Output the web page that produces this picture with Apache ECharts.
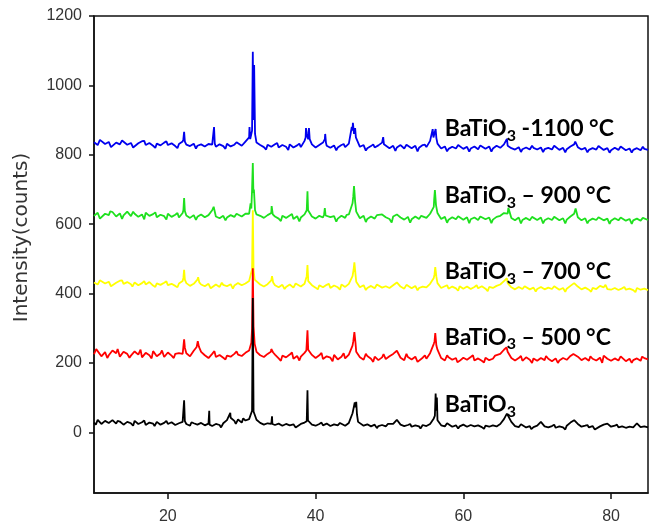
<!DOCTYPE html>
<html>
<head>
<meta charset="utf-8">
<script src="https://cdn.jsdelivr.net/npm/echarts@6/dist/echarts.min.js"></script>
<style>
  html, body { margin: 0; padding: 0; background: #fff; }
  #main { width: 651px; height: 529px; }
</style>
</head>
<body>
<div id="main"></div>
<script>
// 2θ sampling grid (degrees)
var twoTheta = [
  10, 10.5, 11, 11.5, 12, 12.5, 13, 13.5, 14, 14.5,
  15, 15.5, 16, 16.5, 17, 17.5, 18, 18.5, 19, 19.5,
  20, 20.5, 21, 21.5, 22, 22.5, 23, 23.5, 24, 24.5,
  25, 25.5, 26, 26.5, 27, 27.5, 28, 28.5, 29, 29.5,
  30, 30.5, 31, 31.5, 32, 32.5, 33, 33.5, 34, 34.5,
  35, 35.5, 36, 36.5, 37, 37.5, 38, 38.5, 39, 39.5,
  40, 40.5, 41, 41.5, 42, 42.5, 43, 43.5, 44, 44.5,
  45, 45.5, 46, 46.5, 47, 47.5, 48, 48.5, 49, 49.5,
  50, 50.5, 51, 51.5, 52, 52.5, 53, 53.5, 54, 54.5,
  55, 55.5, 56, 56.5, 57, 57.5, 58, 58.5, 59, 59.5,
  60, 60.5, 61, 61.5, 62, 62.5, 63, 63.5, 64, 64.5,
  65, 65.5, 66, 66.5, 67, 67.5, 68, 68.5, 69, 69.5,
  70, 70.5, 71, 71.5, 72, 72.5, 73, 73.5, 74, 74.5,
  75, 75.5, 76, 76.5, 77, 77.5, 78, 78.5, 79, 79.5,
  80, 80.5, 81, 81.5, 82, 82.5, 83, 83.5, 84, 84.5,
  85
];

// BaTiO3 (as prepared) - black
var asPrepared = [
  28, 36, 24, 33, 27, 35, 25, 31, 22, 30,
  26, 33, 24, 29, 21, 28, 25, 30, 22, 27,
  24, 29, 21, 26, 30, 24, 19, 26, 22, 27,
  20, 25, 18, 24, 21, 26, 35, 42, 33, 37,
  28, 34, 38, 387, 36, 27, 22, 26, 24, 21,
  25, 19, 24, 20, 23, 18, 24, 28, 30, 22,
  19, 24, 20, 25, 18, 23, 20, 24, 19, 27,
  55, 88, 28, 19, 23, 17, 22, 18, 21, 17,
  22, 24, 36, 22, 18, 21, 16, 20, 17, 21,
  18, 24, 40, 35, 20, 17, 21, 16, 20, 17,
  22, 16, 21, 17, 20, 15, 19, 16, 20, 17,
  24, 38, 50, 30, 18, 15, 19, 14, 18, 15,
  19, 30, 17, 14, 18, 13, 17, 14, 19, 28,
  35, 24, 16, 19, 14, 18, 13, 17, 22, 25,
  16, 19, 14, 17, 13, 16, 14, 26, 15, 17,
  14
];
var asPreparedPeaks = [
  [10.25, 22], [11.75, 37], [13.2, 33], [15.3, 19], [16.8, 34], [18.2, 18], [19.8, 33],
  [22.1, 30], [22.2, 92], [22.3, 32],
  [23.2, 29], [25.55, 24], [25.6, 62], [25.65, 22], [27.2, 14],
  [28.45, 56], [29.2, 24], [30.2, 40],
  [31.4, 62], [31.6, 60],
  [34.05, 26], [34.1, 46], [34.15, 24], [36.2, 29], [37.3, 14],
  [38.8, 32], [38.9, 121], [38.97, 34], [40.8, 28], [42.2, 13], [43.3, 27],
  [45.15, 70], [45.3, 86], [45.4, 72], [45.6, 52], [45.75, 30],
  [47.2, 26], [48.3, 12], [49.8, 24], [52.8, 24], [54.2, 11], [57.8, 26], [59.3, 11],
  [56.15, 48], [56.25, 112], [56.35, 62], [56.42, 100],
  [61.2, 25], [62.8, 10], [64.2, 24],
  [65.9, 54], [67.8, 23], [69.2, 9], [72.3, 22], [73.8, 8], [76.8, 21], [77.8, 8],
  [80.8, 22], [82.2, 8]
];

// BaTiO3 - 500 °C - red
var t500 = [
  225, 234, 219, 231, 222, 236, 228, 218, 232, 226,
  221, 233, 224, 216, 229, 222, 234, 219, 227, 217,
  230, 221, 226, 228, 226, 228, 219, 235, 250, 232,
  222, 214, 226, 217, 223, 215, 221, 218, 226, 224,
  220, 229, 236, 473, 232, 222, 217, 226, 240, 224,
  213, 221, 216, 224, 212, 220, 218, 229, 238, 223,
  214, 222, 211, 219, 215, 223, 210, 218, 213, 224,
  250, 232, 216, 209, 220, 212, 218, 208, 216, 211,
  219, 226, 235, 215, 208, 217, 210, 218, 207, 215,
  212, 228, 255, 238, 214, 207, 216, 209, 214, 206,
  215, 209, 217, 207, 213, 206, 215, 208, 212, 218,
  226, 238, 232, 214, 207, 214, 206, 216, 209, 213,
  206, 214, 208, 212, 205, 213, 207, 214, 209, 220,
  229, 218, 208, 214, 206, 212, 207, 215, 221, 212,
  206, 213, 207, 214, 205, 212, 208, 213, 206, 214,
  210
];
var t500Peaks = [
  [10.3, 240], [11.8, 214], [13.2, 240], [14.8, 215], [16.3, 238], [17.8, 213], [19.2, 236],
  [20.8, 214], [22.1, 246], [22.2, 268], [22.3, 244],
  [23.9, 246], [24.05, 263], [24.2, 247], [26.3, 234], [27.8, 210], [29.3, 233],
  [31.3, 258], [31.4, 300], [31.6, 305], [31.75, 255],
  [33.95, 232], [34.1, 245], [34.25, 230], [35.3, 206], [36.8, 230], [37.8, 207],
  [38.75, 236], [38.9, 294], [39.05, 240], [40.8, 229], [42.3, 205], [43.8, 228],
  [45.1, 262], [45.25, 289], [45.4, 258], [46.8, 226], [47.8, 203], [49.2, 225],
  [52.3, 226], [53.8, 203], [54.8, 222],
  [56.1, 262], [56.2, 286], [56.35, 250], [57.8, 222], [59.2, 202],
  [61.3, 222], [62.8, 201], [64.3, 221],
  [65.75, 240], [65.85, 245], [67.8, 220], [69.3, 200], [71.2, 220], [72.8, 200],
  [74.9, 226], [75.05, 231], [77.2, 219], [78.8, 200], [81.3, 219], [82.8, 200], [84.2, 218]
];

// BaTiO3 - 700 °C - yellow
var t700 = [
  432, 426, 436, 429, 434, 425, 431, 437, 428, 433,
  427, 432, 424, 430, 426, 433, 423, 429, 425, 431,
  424, 428, 422, 429, 436, 430, 422, 428, 440, 426,
  421, 428, 420, 426, 419, 425, 421, 427, 423, 430,
  424, 429, 436, 640, 438, 426, 420, 427, 438, 424,
  418, 425, 419, 426, 417, 424, 420, 428, 436, 424,
  417, 424, 418, 425, 416, 423, 418, 426, 419, 428,
  450, 434, 418, 424, 416, 422, 415, 423, 417, 421,
  416, 424, 432, 420, 414, 421, 415, 422, 416, 420,
  418, 428, 445, 430, 416, 421, 414, 420, 415, 421,
  414, 420, 413, 419, 415, 421, 414, 419, 416, 422,
  426, 436, 430, 418, 412, 419, 413, 418, 412, 417,
  413, 419, 412, 417, 413, 418, 411, 416, 414, 422,
  430, 420, 412, 417, 411, 416, 413, 422, 418, 413,
  411, 416, 410, 415, 411, 414, 410, 416, 411, 414,
  410
];
var t700Peaks = [
  [10.8, 438], [12.3, 421], [13.8, 438], [15.2, 420], [16.8, 436], [18.3, 419], [19.8, 435],
  [21.3, 418], [22.1, 445], [22.2, 468], [22.3, 440],
  [24.1, 447], [24.25, 432], [25.8, 415], [27.3, 431], [28.8, 414],
  [31.4, 470], [31.6, 468], [31.75, 440],
  [34.1, 450], [34.25, 432], [35.8, 413], [37.3, 429],
  [38.8, 450], [38.9, 482], [38.98, 448], [40.3, 412], [41.8, 428], [43.3, 411],
  [45.15, 470], [45.25, 490], [45.4, 455], [46.8, 410], [48.3, 426],
  [52.3, 425], [53.8, 409], [57.8, 424], [59.3, 408],
  [56.1, 455], [56.2, 476], [56.35, 448], [61.8, 424], [63.3, 407],
  [65.9, 444], [68.3, 421], [69.8, 406], [72.3, 421], [73.8, 405],
  [79.25, 425], [77.3, 405], [81.8, 419], [83.3, 404]
];

// BaTiO3 - 900 °C - green
var t900 = [
  624, 633, 620, 630, 626, 635, 622, 631, 625, 636,
  623, 630, 621, 628, 633, 624, 629, 620, 627, 623,
  630, 621, 627, 619, 632, 625, 618, 626, 621, 628,
  620, 626, 640, 622, 617, 624, 619, 626, 621, 628,
  622, 630, 630, 776, 628, 624, 618, 626, 632, 622,
  616, 624, 618, 625, 615, 623, 619, 628, 635, 622,
  616, 624, 619, 630, 620, 623, 616, 624, 618, 628,
  660, 636, 617, 624, 615, 622, 616, 623, 628, 620,
  615, 622, 628, 619, 613, 621, 614, 622, 615, 624,
  618, 630, 650, 632, 615, 621, 613, 620, 614, 621,
  613, 620, 614, 619, 612, 620, 614, 619, 613, 621,
  624, 632, 630, 618, 611, 619, 612, 618, 611, 617,
  612, 619, 611, 617, 612, 618, 611, 617, 613, 622,
  630, 620, 611, 617, 610, 616, 612, 618, 611, 616,
  610, 617, 611, 616, 610, 615, 611, 616, 610, 614,
  612
];
var t900Peaks = [
  [10.8, 616], [12.2, 637], [13.8, 615], [15.3, 636], [16.8, 614], [18.3, 634], [19.8, 613],
  [21.3, 632], [22.1, 640], [22.2, 675], [22.3, 638], [23.8, 612],
  [26.2, 650], [27.8, 611], [29.3, 630],
  [31.2, 660], [31.3, 645], [31.4, 700], [31.58, 690], [31.65, 700], [31.8, 640],
  [34.05, 652], [34.2, 628], [35.3, 609], [36.8, 629], [37.8, 608],
  [38.8, 640], [38.9, 695], [38.98, 640],
  [41.15, 628], [41.25, 646], [41.35, 625], [42.8, 607], [44.2, 627],
  [45.1, 680], [45.2, 710], [45.35, 665], [46.8, 606], [48.3, 626],
  [50.3, 605], [51.2, 632], [52.8, 604], [54.3, 624],
  [56.05, 670], [56.15, 698], [56.3, 655], [57.8, 604], [59.3, 623],
  [60.8, 603], [62.3, 622], [63.8, 603],
  [66.1, 647], [67.8, 602], [69.3, 621], [70.8, 602], [72.3, 621], [73.8, 602],
  [75.2, 645], [76.8, 602], [78.3, 620], [79.8, 601], [81.3, 619], [82.8, 601], [84.3, 618]
];

// BaTiO3 - 1100 °C - blue
var t1100 = [
  836, 828, 840, 831, 837, 827, 835, 830, 838, 829,
  834, 826, 833, 839, 828, 834, 826, 832, 827, 835,
  828, 833, 825, 831, 838, 829, 825, 832, 826, 830,
  824, 831, 829, 823, 830, 825, 832, 824, 829, 833,
  826, 838, 850, 1097, 835, 828, 822, 829, 823, 830,
  821, 828, 823, 830, 821, 827, 822, 840, 845, 830,
  821, 828, 835, 826, 820, 827, 821, 828, 822, 832,
  870, 845, 823, 828, 819, 825, 821, 827, 835, 826,
  819, 826, 821, 828, 818, 825, 819, 826, 820, 828,
  822, 840, 845, 832, 818, 824, 817, 823, 818, 825,
  817, 823, 818, 824, 816, 822, 817, 824, 818, 826,
  820, 830, 826, 819, 815, 822, 816, 821, 815, 820,
  815, 821, 816, 820, 815, 821, 814, 820, 816, 824,
  830, 822, 815, 820, 814, 819, 815, 821, 814, 819,
  813, 820, 814, 819, 813, 818, 814, 819, 813, 817,
  814
];
var t1100Peaks = [
  [10.8, 843], [12.3, 822], [13.8, 841], [15.3, 821], [16.8, 840], [18.3, 820], [19.8, 839],
  [21.3, 819], [22.1, 845], [22.2, 866], [22.3, 838], [23.8, 818],
  [26.25, 880], [26.35, 832], [27.8, 817], [29.3, 836],
  [31.05, 880], [31.15, 845], [31.4, 870], [31.58, 900], [31.68, 1059], [31.8, 860],
  [33.3, 815], [34.8, 834], [36.3, 814], [37.8, 832],
  [38.65, 850], [38.7, 877], [38.8, 860], [38.9, 865], [39.1, 877], [39.2, 845],
  [41.25, 845], [41.3, 860], [41.4, 835], [42.8, 813], [43.8, 831],
  [44.9, 880], [45.05, 892], [45.2, 860], [45.35, 877], [45.45, 850],
  [46.8, 812], [47.8, 830], [49.15, 851], [49.25, 830],
  [50.8, 811], [52.3, 829], [53.8, 810], [54.8, 829],
  [55.85, 874], [55.95, 850], [56.05, 850], [56.25, 874], [56.35, 848],
  [57.8, 810], [59.3, 828], [60.8, 809], [62.3, 827], [63.8, 809],
  [65.9, 846], [67.8, 808], [69.3, 826], [70.8, 808], [72.3, 826], [73.8, 807],
  [75.15, 838], [76.8, 807], [78.3, 825], [79.8, 806], [81.3, 824], [82.8, 806], [84.3, 823]
];

var yTicks = [0, 200, 400, 600, 800, 1000, 1200];
var xTicks = [20, 40, 60, 80];

function build(base, peaks) {
  var pts = base.map(function (v, i) { return [twoTheta[i], v]; }).concat(peaks);
  pts.sort(function (a, b) { return a[0] - b[0]; });
  return pts;
}

var labelRich = {
  m: { fontFamily: 'Lato', fontWeight: 'bold', fontSize: 23, color: '#000', lineHeight: 30 },
  s: { fontFamily: 'Lato', fontWeight: 'bold', fontSize: 16, color: '#000', lineHeight: 16, verticalAlign: 'bottom' }
};

function line(name, color, base, peaks, tail, labelAt) {
  return {
    name: name,
    type: 'line',
    data: build(base, peaks),
    symbol: 'none',
    lineStyle: { color: color, width: 1.8 },
    itemStyle: { color: color },
    markPoint: {
      symbol: 'circle',
      symbolSize: 0,
      silent: true,
      label: {
        show: true,
        position: 'right',
        distance: 0,
        formatter: '{m|BaTiO}{s|3}' + (tail ? '{m|' + tail + '}' : ''),
        rich: labelRich
      },
      data: [{ coord: labelAt }]
    }
  };
}

var tickFont = { fontFamily: 'Liberation Sans, Arial, sans-serif', fontSize: 16, color: '#333' };

var myChart = echarts.init(document.getElementById('main'));
myChart.setOption({
  animation: false,
  backgroundColor: '#fff',
  grid: {
    left: 94, right: 3, top: 16, bottom: 36,
    show: true, borderColor: '#111', borderWidth: 1.5
  },
  xAxis: {
    type: 'value',
    min: 10, max: 85,
    axisLine: { show: true, onZero: false, lineStyle: { color: '#111', width: 1.5 } },
    axisTick: { show: true, length: 6, lineStyle: { color: '#111', width: 1.5 }, customValues: xTicks },
    axisLabel: Object.assign({ customValues: xTicks, margin: 16, formatter: function (v) { return String(v); } }, tickFont),
    splitLine: { show: false }
  },
  yAxis: {
    type: 'value',
    min: -175, max: 1200,
    name: 'Intensity(counts)',
    nameLocation: 'middle',
    nameGap: 62,
    nameTextStyle: { fontFamily: 'DejaVu Sans', fontSize: 20, color: '#333', padding: [0, 0, 0, 34] },
    axisLine: { show: true, onZero: false, lineStyle: { color: '#111', width: 1.5 } },
    axisTick: { show: true, length: 5, lineStyle: { color: '#111', width: 1.5 }, customValues: yTicks },
    axisLabel: Object.assign({ customValues: yTicks, margin: 12, formatter: function (v) { return String(v); } }, tickFont),
    splitLine: { show: false }
  },
  series: [
    line('BaTiO3 - 700 °C', '#ffff00', t700, t700Peaks, ' – 700 °C', [57.5, 462]),
    line('BaTiO3 - 500 °C', '#ff0000', t500, t500Peaks, ' – 500 °C', [57.5, 274]),
    line('BaTiO3', '#000000', asPrepared, asPreparedPeaks, '', [57.5, 79]),
    line('BaTiO3 - 900 °C', '#1ee01e', t900, t900Peaks, ' – 900 °C', [57.5, 683]),
    line('BaTiO3 - 1100 °C', '#0000ee', t1100, t1100Peaks, ' -1100 °C', [57.5, 876])
  ]
});
</script>
</body>
</html>
